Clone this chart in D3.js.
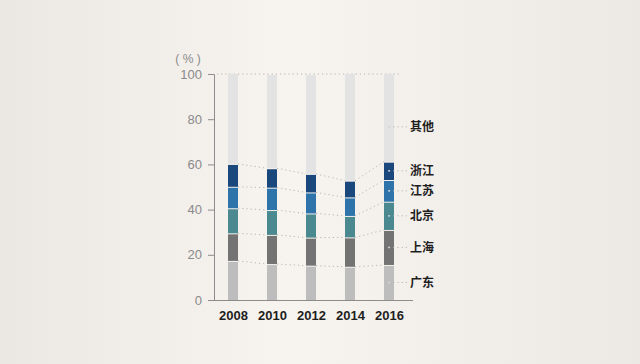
<!DOCTYPE html>
<html>
<head>
<meta charset="utf-8">
<script src="https://cdn.jsdelivr.net/npm/d3@7"></script>
<style>
  body { margin: 0; }
  svg { display: block; }
</style>
</head>
<body>
<div id="chart"></div>
<script>
// data (shares in %)
const years = ["2008", "2010", "2012", "2014", "2016"];
const regions = ["广东", "上海", "北京", "江苏", "浙江", "其他"];
const guangdong = [17.3, 15.9, 15.2, 14.7, 15.5];
const shanghai  = [12.2, 12.9, 12.4, 13.0, 15.5];
const beijing   = [11.1, 11.0, 10.7, 9.5, 12.5];
const jiangsu   = [9.5, 9.9, 9.3, 8.2, 9.6];
const zhejiang  = [10.1, 8.6, 8.2, 7.4, 8.1];
const yTicks = [0, 20, 40, 60, 80, 100];

const colors = ["#bdbdbd", "#737373", "#4b8990", "#2e74ab", "#1a477c", "#e3e3e3"];

const W = 640, H = 364;

const svg = d3.select("#chart")
  .append("svg")
    .attr("width", W)
    .attr("height", H);

// background gradient
const grad = svg.append("defs").append("linearGradient")
  .attr("id", "bg").attr("x1", "0").attr("x2", "1").attr("y1", "0").attr("y2", "0");
grad.append("stop").attr("offset", "0%").attr("stop-color", "#ebe7e3");
grad.append("stop").attr("offset", "45%").attr("stop-color", "#f7f4ef");
grad.append("stop").attr("offset", "100%").attr("stop-color", "#ece8e4");
svg.append("rect").attr("width", W).attr("height", H).attr("fill", "url(#bg)");

// build the stacked table
const table = years.map((yr, i) => {
  const row = {year: yr};
  row["广东"] = guangdong[i];
  row["上海"] = shanghai[i];
  row["北京"] = beijing[i];
  row["江苏"] = jiangsu[i];
  row["浙江"] = zhejiang[i];
  row["其他"] = 100 - guangdong[i] - shanghai[i] - beijing[i] - jiangsu[i] - zhejiang[i];
  return row;
});
const series = d3.stack().keys(regions)(table);

const x = d3.scalePoint().domain(years).range([233, 389]);
const y = d3.scaleLinear().domain([0, 100]).range([300, 74]);
const bw = 10;
const font = "Arial, 'Liberation Sans', 'Noto Sans CJK SC', sans-serif";
const dotted = "#b8b6b2";

// dotted line at 100
svg.append("line")
  .attr("x1", 217).attr("x2", 400)
  .attr("y1", y(100)).attr("y2", y(100))
  .attr("stroke", dotted).attr("stroke-dasharray", "1.2,3");

// bars
svg.append("g").selectAll("g")
  .data(series)
  .join("g")
    .attr("fill", (d, i) => colors[i])
  .selectAll("rect")
  .data(d => d)
  .join("rect")
    .attr("x", d => x(d.data.year) - bw / 2)
    .attr("y", d => y(d[1]) + (d[1] < 100 ? 1 : 0))
    .attr("width", bw)
    .attr("height", d => Math.max(0, y(d[0]) - y(d[1]) - (d[1] < 100 ? 1 : 0)));

// dotted connectors between bars (segment tops)
series.slice(0, 5).forEach(s => {
  for (let i = 0; i < s.length - 1; i++) {
    svg.append("line")
      .attr("x1", x(s[i].data.year) + bw / 2)
      .attr("x2", x(s[i + 1].data.year) - bw / 2)
      .attr("y1", y(s[i][1]))
      .attr("y2", y(s[i + 1][1]))
      .attr("stroke", dotted)
      .attr("stroke-dasharray", "1.2,3");
  }
});

// legend labels on the right, from the last bar
const last = years.length - 1;
const lx = x(years[last]);
series.forEach((s, i) => {
  const seg = s[last];
  let ly = y((seg[0] + seg[1]) / 2);
  if (regions[i] === "其他") ly += 9;
  svg.append("line")
    .attr("x1", lx).attr("x2", 407)
    .attr("y1", ly).attr("y2", ly)
    .attr("stroke", dotted)
    .attr("stroke-dasharray", "1.2,3");
  svg.append("circle")
    .attr("cx", lx).attr("cy", ly).attr("r", 0.9)
    .attr("fill", "#d8d8d8");
  svg.append("text")
    .attr("x", 410).attr("y", ly)
    .attr("dy", "0.36em")
    .style("font-family", "'Noto Sans CJK SC', sans-serif")
    .style("font-size", "12px")
    .style("font-weight", "bold")
    .attr("fill", "#1e1e1e")
    .text(regions[i]);
});

// y axis
const yAxis = svg.append("g")
  .attr("transform", "translate(214,0)")
  .call(d3.axisLeft(y).tickValues(yTicks).tickSize(6).tickPadding(6));
yAxis.select(".domain").attr("stroke", "#8c8c8c");
yAxis.selectAll(".tick line").attr("stroke", "#8c8c8c");
yAxis.selectAll("text")
  .style("font-family", font)
  .style("font-size", "13px")
  .attr("fill", "#8a8a8a");

// x axis
svg.append("line")
  .attr("x1", 214).attr("x2", 413)
  .attr("y1", 300.5).attr("y2", 300.5)
  .attr("stroke", "#8c8c8c");
const xAxis = svg.append("g")
  .attr("transform", "translate(0,300)")
  .call(d3.axisBottom(x).tickSize(0).tickPadding(11));
xAxis.select(".domain").remove();
xAxis.selectAll("text")
  .style("font-family", font)
  .style("font-size", "13px")
  .style("font-weight", "bold")
  .attr("fill", "#1e1e1e");

// unit label
svg.append("text")
  .attr("x", 188).attr("y", 63)
  .attr("text-anchor", "middle")
  .style("font-family", font)
  .style("font-size", "12px")
  .attr("fill", "#8a8a8a")
  .text("( % )");
</script>
</body>
</html>
